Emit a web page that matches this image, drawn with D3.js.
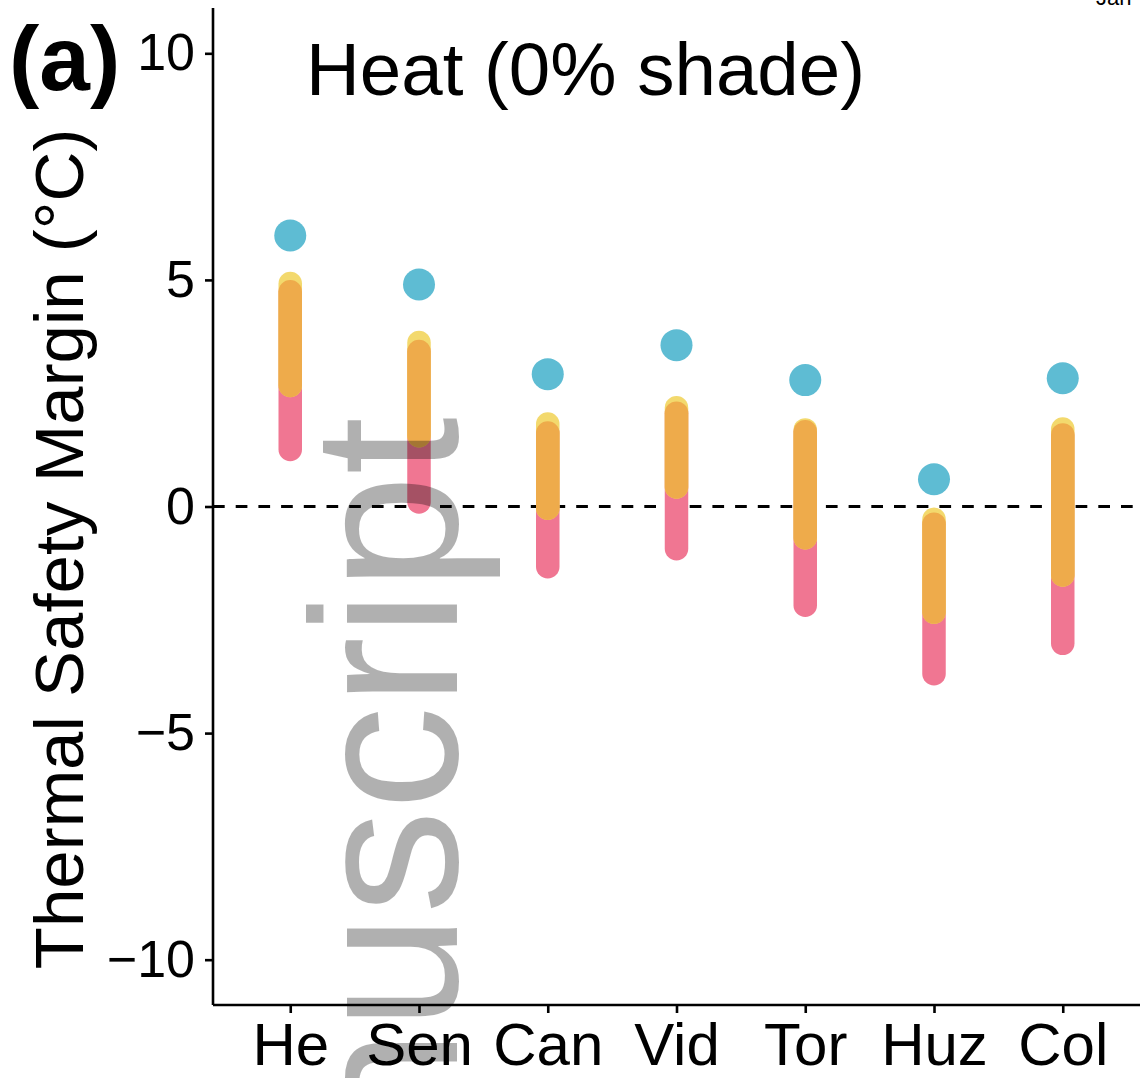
<!DOCTYPE html>
<html>
<head>
<meta charset="utf-8">
<script src="https://cdn.jsdelivr.net/npm/d3@7"></script>
<style>
  html, body { margin: 0; padding: 0; background: #fff; }
  svg { display: block; }
  text { font-family: "Liberation Sans", Arial, Helvetica, sans-serif; }
</style>
</head>
<body>
<svg id="chart" width="1140" height="1078"></svg>
<script>
// Sites along the x axis
const sites = ["He", "Sen", "Can", "Vid", "Tor", "Huz", "Col"];

// Thermal safety margins (°C) per site
const bluePoint   = [5.98, 4.90, 2.92, 3.56, 2.79, 0.60, 2.83];
const yellowHigh  = [4.92, 3.62, 1.82, 2.18, 1.69, -0.28, 1.71];
const yellowLow   = [2.67, 1.56, -0.04, 0.43, -0.69, -2.33, -1.51];
const orangeHigh  = [4.74, 3.42, 1.62, 2.06, 1.65, -0.39, 1.58];
const orangeLow   = [2.67, 1.56, -0.04, 0.43, -0.69, -2.33, -1.51];
const pinkHigh    = [4.74, 3.42, 1.62, 2.06, 1.65, -0.39, 1.58];
const pinkLow     = [1.26, 0.10, -1.33, -0.93, -2.18, -3.69, -3.02];

const yTicks = [-10, -5, 0, 5, 10];

const svg = d3.select("#chart");
const plotLeft = 213, plotRight = 1140, plotTop = 8, plotBottom = 1005;

const x = d3.scalePoint().domain(sites).range([plotLeft, plotRight]).padding(0.6);
const y = d3.scaleLinear().domain([-11, 11]).range([plotBottom, plotTop]);

const colors = {
  pink: "#F07692",
  yellow: "#F3D96D",
  orange: "#EEAB4B",
  blue: "#5EBCD3"
};
const barWidth = 23.5;

// Zero reference line
svg.append("line")
  .attr("x1", plotLeft).attr("x2", plotRight)
  .attr("y1", y(0)).attr("y2", y(0))
  .attr("stroke", "#000").attr("stroke-width", 3)
  .attr("stroke-dasharray", "11.7,11");

// Ranges drawn as round-capped segments
function ranges(lo, hi, color, cls) {
  svg.append("g").attr("class", cls)
    .selectAll("line").data(sites).join("line")
    .attr("x1", d => x(d)).attr("x2", d => x(d))
    .attr("y1", (d, i) => y(lo[i])).attr("y2", (d, i) => y(hi[i]))
    .attr("stroke", color).attr("stroke-width", barWidth)
    .attr("stroke-linecap", "round");
}
ranges(pinkLow, pinkHigh, colors.pink, "pink");
ranges(yellowLow, yellowHigh, colors.yellow, "yellow");
ranges(orangeLow, orangeHigh, colors.orange, "orange");

// Points
svg.append("g").selectAll("circle").data(sites).join("circle")
  .attr("cx", d => x(d)).attr("cy", (d, i) => y(bluePoint[i]))
  .attr("r", 16).attr("fill", colors.blue);

// Axes
const yAxis = d3.axisLeft(y).tickValues(yTicks).tickSize(8).tickSizeOuter(0).tickPadding(10)
  .tickFormat(d => d < 0 ? "\u2212" + Math.abs(d) : String(d));
const gy = svg.append("g").attr("transform", `translate(${plotLeft},0)`).call(yAxis);
gy.select(".domain").attr("d", `M0,${plotTop}V${plotBottom}`);

const xAxis = d3.axisBottom(x).tickSize(8).tickSizeOuter(0).tickPadding(9);
const gx = svg.append("g").attr("transform", `translate(0,${plotBottom})`).call(xAxis);
gx.select(".domain").attr("d", `M${plotLeft},0H${plotRight}`);

[gx, gy].forEach(g => {
  g.selectAll(".domain").attr("stroke", "#000").attr("stroke-width", 2.6);
  g.selectAll(".tick line").attr("stroke", "#000").attr("stroke-width", 2.6);
  g.selectAll(".tick text").attr("fill", "#000")
    .attr("font-family", "'Liberation Sans', Arial, Helvetica, sans-serif");
});
gy.selectAll(".tick text").attr("font-size", 52);
gx.selectAll(".tick text").attr("font-size", 60);

// Axis title
svg.append("text")
  .attr("transform", "translate(83,549) rotate(-90)")
  .attr("text-anchor", "middle")
  .attr("font-size", 69).attr("fill", "#000")
  .text("Thermal Safety Margin (°C)");

// Panel title and tag
svg.append("text")
  .attr("x", 306).attr("y", 95)
  .attr("font-size", 74.5).attr("fill", "#000")
  .text("Heat (0% shade)");

svg.append("text")
  .attr("x", 9).attr("y", 90)
  .attr("font-size", 91).attr("font-weight", "bold").attr("fill", "#000")
  .text("(a)");

// Header fragment at top right
svg.append("text")
  .attr("x", 1096).attr("y", 5)
  .attr("font-family", "'Liberation Serif', 'Times New Roman', serif")
  .attr("font-size", 22).attr("fill", "#000")
  .text("Jan");

// Manuscript watermark
svg.append("text")
  .attr("transform", "translate(457,417) rotate(-90)")
  .attr("text-anchor", "end")
  .attr("font-size", 208)
  .attr("fill", "#000").attr("fill-opacity", 0.31)
  .text("Manuscript");
</script>
</body>
</html>
